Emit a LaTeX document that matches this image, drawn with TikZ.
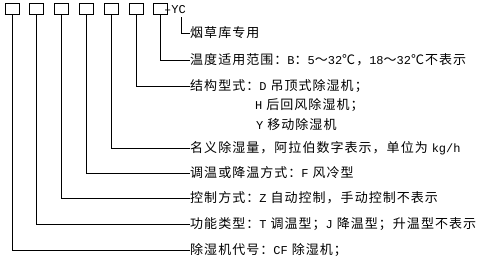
\documentclass[tikz,border=0pt]{standalone}
\usepackage{fontspec}
\setmainfont[LetterSpace=8]{Noto Sans CJK SC}
\setmonofont{Liberation Mono}
\usetikzlibrary{positioning}
\newcommand{\lat}[1]{{\ttfamily\fontsize{12}{14}\selectfont #1}}

\begin{document}
\begin{tikzpicture}[x=1pt,y=-1pt,
      box/.style={draw,line width=0.8pt,minimum width=14pt,minimum height=11pt,inner sep=0pt},
      lbl/.style={anchor=west,inner sep=0pt,font=\fontsize{13}{15}\selectfont,text height=10.5pt,text depth=2.5pt},
      lnk/.style={line width=0.8pt}
    ]
      \useasboundingbox (0,0) rectangle (479,263);
      \node[box] (b1) at (12,8.5) {};
      \node[box,right=10pt of b1] (b2) {};
      \node[box,right=10pt of b2] (b3) {};
      \node[box,right=10pt of b3] (b4) {};
      \node[box,right=10pt of b4] (b5) {};
      \node[box,right=10pt of b5] (b6) {};
      \node[box,right=10pt of b6] (b7) {};
      \foreach \b in {b1,b2,b3,b4,b5,b6,b7}
        \draw[line width=1.6pt] (\b.south west) -- (\b.south east);
      \node[anchor=west,inner sep=0pt,font=\fontsize{12}{14}\ttfamily] (yc) at (164,9.5) {–YC};
      \coordinate (ycfoot) at (181,17);
      \node[lbl] (use) at (190,33) {烟草库专用};
      \node[lbl] (temp) at (190,60) {温度适用范围：\lat{B}：\lat{5}～\lat{32}℃，\lat{18}～\lat{32}℃不表示};
      \node[lbl] (struct) at (190,86) {结构型式：\lat{D} 吊顶式除湿机；};
      \node[lbl] (structh) at (255,105) {\lat{H} 后回风除湿机；};
      \node[lbl] (structy) at (256,125) {\lat{Y} 移动除湿机};
      \node[lbl] (cap) at (190,148) {名义除湿量，阿拉伯数字表示，单位为 \lat{kg/h}};
      \node[lbl] (cool) at (190,173) {调温或降温方式：\lat{F} 风冷型};
      \node[lbl] (ctrl) at (190,198) {控制方式：\lat{Z} 自动控制，手动控制不表示};
      \node[lbl] (func) at (190,224) {功能类型：\lat{T} 调温型；\lat{J} 降温型；升温型不表示};
      \node[lbl] (code) at (190,250) {除湿机代号：\lat{CF} 除湿机；};
      \draw[lnk] (ycfoot) |- (use.west);
      \draw[lnk] (b7.south) |- (temp.west);
      \draw[lnk] (b6.south) |- (struct.west);
      \draw[lnk] (b5.south) |- (cap.west);
      \draw[lnk] (b4.south) |- (cool.west);
      \draw[lnk] (b3.south) |- (ctrl.west);
      \draw[lnk] (b2.south) |- (func.west);
      \draw[lnk] (b1.south) |- (code.west);
    \end{tikzpicture}
\end{document}
